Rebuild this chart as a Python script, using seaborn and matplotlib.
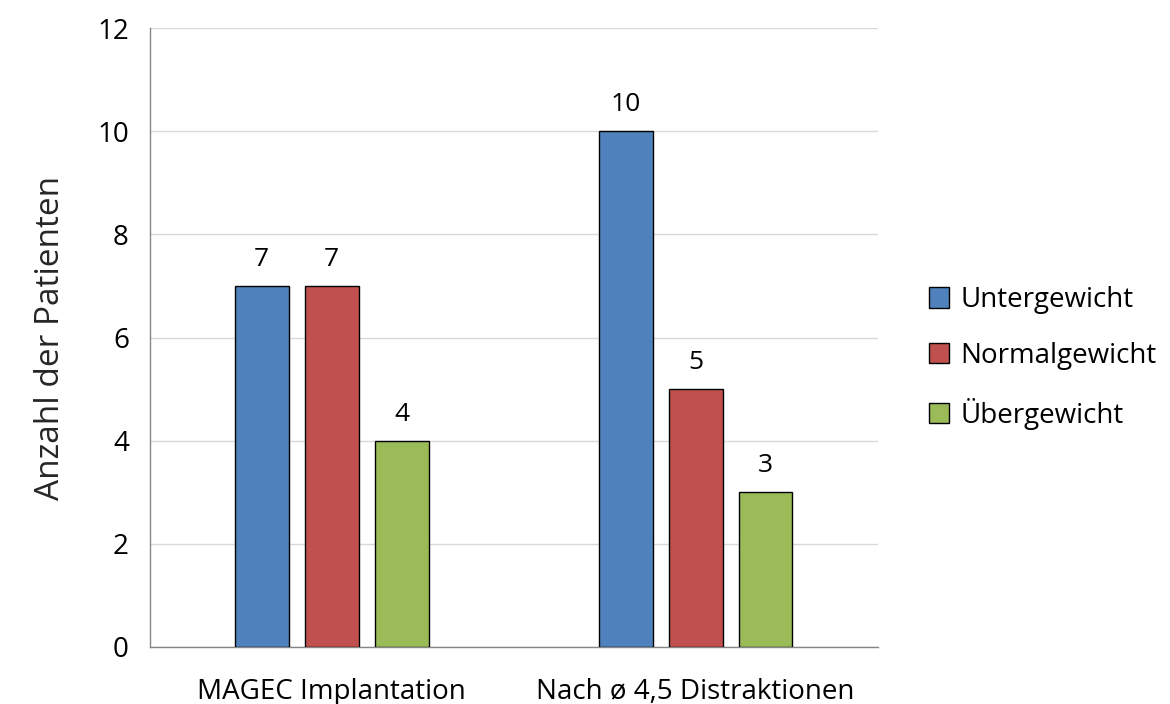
import matplotlib
matplotlib.use("Agg")
import matplotlib.pyplot as plt
import seaborn as sns
import pandas as pd

# data
zeitpunkte = ["MAGEC Implantation", "Nach ø 4,5 Distraktionen"]
gruppen = ["Untergewicht", "Normalgewicht", "Übergewicht"]
untergewicht = [7, 10]
normalgewicht = [7, 5]
uebergewicht = [4, 3]
farben = ["#4F81BD", "#C0504D", "#9BBB59"]

df = pd.DataFrame({
    "Zeitpunkt": zeitpunkte * 3,
    "Gruppe": [g for g in gruppen for _ in zeitpunkte],
    "Anzahl": untergewicht + normalgewicht + uebergewicht,
})

sns.set_style("white")
plt.rcParams["font.family"] = ["Open Sans", "DejaVu Sans"]
plt.rcParams["text.color"] = "black"
plt.rcParams["xtick.color"] = "black"
plt.rcParams["ytick.color"] = "black"

fig = plt.figure(figsize=(11.7, 7.04), dpi=100)
ax = fig.add_axes([0.128, 0.081, 0.622, 0.879])

sns.barplot(data=df, x="Zeitpunkt", y="Anzahl", hue="Gruppe",
            palette=farben, saturation=1, width=0.577, gap=0.23,
            edgecolor="black", linewidth=1.0, ax=ax, zorder=3)

# value labels above each bar
for cont in ax.containers:
    ax.bar_label(cont, padding=10, fontsize=19, color="black")

ax.set_ylim(0, 12)
ax.set_xlim(-0.5, 1.5)
ax.set_yticks(range(0, 13, 2))
ax.yaxis.grid(True, color="#D9D9D9", linewidth=1.0, zorder=0)
ax.set_axisbelow(True)

for s in ["top", "right"]:
    ax.spines[s].set_visible(False)
for s in ["left", "bottom"]:
    ax.spines[s].set_color("#868686")
    ax.spines[s].set_linewidth(1.0)

# category boundary ticks on x axis
ax.set_xticks([-0.5, 0.5, 1.5], minor=True)
ax.tick_params(axis="x", which="minor", length=9, color="#868686", width=1.0)
ax.tick_params(axis="x", which="major", length=0, pad=22, labelsize=20)
ax.tick_params(axis="y", length=9, color="#868686", width=1.0, pad=6, labelsize=20)

ax.set_xlabel("")
ax.set_ylabel("Anzahl der Patienten", fontsize=24, labelpad=22)

ax.legend(loc="center left", bbox_to_anchor=(1.055, 0.467), frameon=False,
          fontsize=20, handlelength=0.75, handleheight=0.75, handletextpad=0.4,
          labelspacing=1.0, borderaxespad=0)
for h in ax.get_legend().legend_handles:
    h.set_edgecolor("black")

fig.savefig("out.png", dpi=100)
